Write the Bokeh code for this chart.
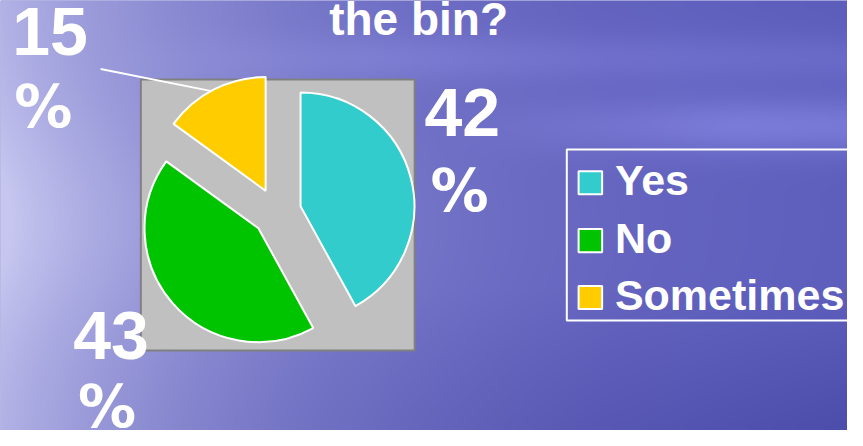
import numpy as np
from math import pi, cos, sin
from bokeh.plotting import figure
from bokeh.models import Range1d, ColumnDataSource
from bokeh.core.properties import value
from bokeh.embed import file_html
from bokeh.resources import INLINE

# ---- data ----
categories = ["Yes", "No", "Sometimes"]
values = [42, 43, 15]
colors = ["#33CCCC", "#00C400", "#FFCC00"]
title_text = "the bin?"

W, H = 847, 430          # figure size in pixels
RW, RH = 863, 446        # scene coordinates (reference pixels)
FONT = value("Liberation Sans")
FONT_PCT = value("DejaVu Sans")
BL = 0.39                # baseline correction (fraction of font size)

def Y(py):  # reference pixel y -> data y
    return RH - py

def T(py, fs):  # baseline position corrected for renderer offset
    return Y(py - BL * fs)

p = figure(width=W, height=H, output_backend="svg", toolbar_location=None,
           x_range=Range1d(0, RW), y_range=Range1d(0, RH),
           min_border=0, outline_line_color=None)
p.axis.visible = False
p.grid.visible = False
p.background_fill_color = "#7070c8"
p.border_fill_color = "#7070c8"

# ---- background gradient (style only) ----
gh, gw = H // 2, W // 2
gy, gx = np.mgrid[0:gh, 0:gw]
px = (gx + 0.5) * RW / gw
py = RH - (gy + 0.5) * RH / gh
L = np.array([198, 198, 240.0])
R = np.array([88, 88, 186.0])
w = np.exp(-px / 300.0) * (0.82 + 0.22 * np.exp(-((py - 230) / 120.0) ** 2))
w = np.clip(w, 0, 1)
streak = 26 * np.exp(-((py - 130) / 30.0) ** 2) * np.clip((px - 450) / 300.0, 0, 1)
streak += 12 * np.exp(-((py - 60) / 25.0) ** 2) * np.clip((px - 100) / 300.0, 0, 1)
dark = -16 * np.clip((py - 300) / 140.0, 0, 1) * np.clip(px / RW, 0, 1)
img = np.zeros((gh, gw, 4), dtype=np.uint8)
for c in range(3):
    ch = R[c] + (L[c] - R[c]) * w + streak + dark
    img[:, :, c] = np.clip(ch, 0, 255).astype(np.uint8)
img[:, :, 3] = 255
p.image_rgba(image=[img.view(dtype=np.uint32).reshape(gh, gw)], x=0, y=0, dw=RW, dh=RH)

# ---- title (second line visible) ----
fs_t = 46
p.text(x=[426], y=[T(37, fs_t)], text=[title_text], text_font=FONT, text_font_style="bold",
       text_font_size=f"{fs_t}px", text_color="white", text_align="center",
       text_baseline="alphabetic")

# ---- plot area ----
p.quad(left=[143], right=[422], top=[Y(82)], bottom=[Y(363)],
       fill_color="#C0C0C0", line_color="#808080", line_width=2)

# ---- exploded pie ----
cx, cy, r, d = 281.5, Y(219.7), 116, 25
total = float(sum(values))
cum = np.concatenate([[0], np.cumsum(values)]) / total
starts, ends, xs, ys = [], [], [], []
for i in range(len(values)):
    a0 = pi / 2 - cum[i + 1] * 2 * pi
    a1 = pi / 2 - cum[i] * 2 * pi
    mid = (a0 + a1) / 2
    starts.append(a0)
    ends.append(a1)
    xs.append(cx + d * cos(mid))
    ys.append(cy + d * sin(mid))
src = ColumnDataSource(dict(x=xs, y=ys, s=starts, e=ends, c=colors))
p.wedge(x="x", y="y", radius=r, start_angle="s", end_angle="e", direction="anticlock",
        fill_color="c", line_color="white", line_width=2, source=src)

# leader line for the small slice
p.line(x=[102, 215], y=[Y(71), Y(94)], line_color="white", line_width=2)

# ---- data labels ----
fs_n, fs_p = 68, 58
lab_num_x = [432, 74, 12]
lab_num_y = [T(143, fs_n), T(374, fs_n), T(59, fs_n)]
lab_pct_x = [438, 79, 14]
lab_pct_y = [T(220, fs_p), T(444, fs_p), T(133, fs_p)]
p.text(x=lab_num_x, y=lab_num_y, text=[str(v) for v in values], text_font=FONT,
       text_font_style="bold", text_font_size=f"{fs_n}px", text_color="white",
       text_align="left", text_baseline="alphabetic")
p.text(x=lab_pct_x, y=lab_pct_y, text=["%"] * 3, text_font=FONT_PCT,
       text_font_style="bold", text_font_size=f"{fs_p}px", text_color="white",
       text_align="left", text_baseline="alphabetic")

# ---- legend ----
p.quad(left=[577], right=[900], top=[Y(154.5)], bottom=[Y(332)],
       fill_alpha=0, line_color="white", line_width=2)
leg_y = [Y(189), Y(249), Y(308)]
p.rect(x=[601] * 3, y=leg_y, width=24, height=24, fill_color=colors,
       line_color="white", line_width=2)
fs_l = 43
p.text(x=[626] * 3, y=[T(203, fs_l), T(263, fs_l), T(322, fs_l)], text=categories,
       text_font=FONT, text_font_style="bold", text_font_size=f"{fs_l}px",
       text_color="white", text_align="left", text_baseline="alphabetic")

open("out.html", "w").write(file_html(p, INLINE))
